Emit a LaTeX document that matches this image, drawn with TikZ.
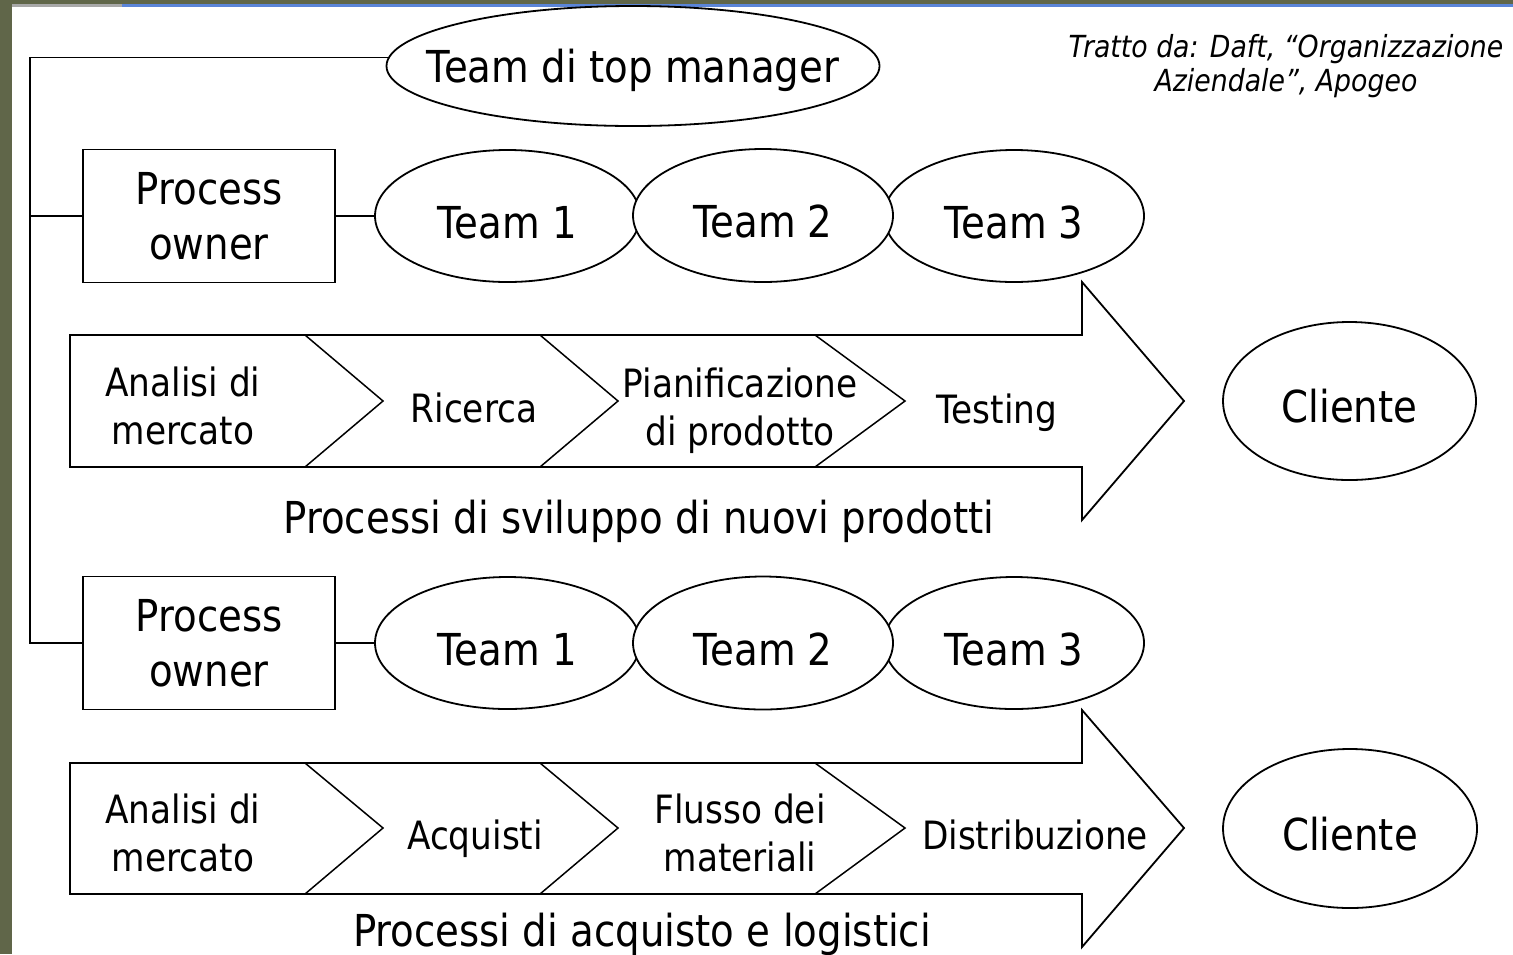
\documentclass[tikz,border=0pt]{standalone}
\usepackage{fontspec}
\setmainfont{DejaVu Sans}[FakeStretch=0.88]
\usetikzlibrary{shapes.geometric}
\definecolor{slideolive}{RGB}{96,102,73}
\definecolor{bargray}{RGB}{168,168,168}
\definecolor{barblue}{RGB}{91,133,216}
\begin{document}
\begin{tikzpicture}[x=0.5pt,y=-0.5pt,line width=0.9pt,
  bigtxt/.style={font=\fontsize{22pt}{27.5pt}\selectfont},
  midtxt/.style={font=\fontsize{19.5pt}{24pt}\selectfont},
  oval/.style={ellipse,draw,fill=white,inner sep=0pt,bigtxt,text height=22pt,text depth=0pt},
  pobox/.style={rectangle,draw,fill=white,minimum width=126pt,minimum height=66.5pt,align=center,bigtxt,inner sep=0pt},
  flowtxt/.style={midtxt,align=center,inner sep=0pt},
  labtxt/.style={bigtxt,inner sep=0pt,anchor=base},
  procarrow/.style={draw,fill=white,line join=miter},
  chev/.style={draw,line width=0.75pt}]
\useasboundingbox (0,0) rectangle (1513,954);
\fill[white] (0,0) rectangle (1513,954);
\fill[slideolive] (0,0) rectangle (12,954);
\fill[slideolive] (0,0) rectangle (1513,4);
\fill[bargray] (12,4) rectangle (122,7);
\fill[barblue] (122,4) rectangle (1513,7);

% source note
\node[font=\fontsize{15.2pt}{17pt}\selectfont\itshape,align=center,inner sep=0pt] (src) at (1286,66)
  {Tratto da: Daft, ``Organizzazione\\Aziendale'', Apogeo};

% top management
\node[oval,minimum width=246.5pt,minimum height=60pt,inner xsep=-25pt,text height=16pt] (top) at (633,66) {Team di top manager};

% row 1
\node[pobox] (po1) at (209,216) {Process\\owner};
\node[oval,minimum width=132.5pt,minimum height=66pt] (t11) at (507.5,216) {Team 1};
\node[oval,minimum width=130pt,minimum height=66pt] (t13) at (1014,216) {Team 3};
\node[oval,minimum width=130pt,minimum height=66.5pt] (t12) at (763,215.5) {Team 2};

\draw[procarrow] (70,335) -- (1082,335) -- (1082,282) -- (1184,401) -- (1082,520) -- (1082,467) -- (70,467) -- cycle;
\draw[chev] (305,335) -- (383,401) -- (305,467);
\draw[chev] (540,335) -- (618,401) -- (540,467);
\draw[chev] (815,335) -- (905,401) -- (815,467);
\node[flowtxt] (a1) at (183,406.2) {Analisi di\\mercato};
\node[flowtxt,anchor=base] (a2) at (474,422) {Ricerca};
\node[flowtxt] (a3) at (740,410.5) {Pianificazione\\di prodotto};
\node[flowtxt,anchor=base] (a4) at (997,423) {Testing};
\node[oval,minimum width=126.5pt,minimum height=79pt,text height=21pt] (c1) at (1349.5,401) {Cliente};
\node[labtxt] (l1) at (639,533) {Processi di sviluppo di nuovi prodotti};

% row 2
\node[pobox] (po2) at (209,643) {Process\\owner};
\node[oval,minimum width=132.5pt,minimum height=66pt] (t21) at (507.5,643) {Team 1};
\node[oval,minimum width=130pt,minimum height=66pt] (t23) at (1014,643) {Team 3};
\node[oval,minimum width=130pt,minimum height=66.5pt] (t22) at (763,643) {Team 2};

\draw[procarrow] (70,763) -- (1082,763) -- (1082,710) -- (1184,828) -- (1082,947) -- (1082,894) -- (70,894) -- cycle;
\draw[chev] (305,763) -- (383,828) -- (305,894);
\draw[chev] (540,763) -- (618,828) -- (540,894);
\draw[chev] (815,763) -- (905,828) -- (815,894);
\node[flowtxt] (b1) at (183,833.2) {Analisi di\\mercato};
\node[flowtxt,anchor=base] (b2) at (475,849) {Acquisti};
\node[flowtxt] (b3) at (740,832.7) {Flusso dei\\materiali};
\node[flowtxt,anchor=base] (b4) at (1035,849) {Distribuzione};
\node[oval,minimum width=127pt,minimum height=79.5pt,text height=21.5pt] (c2) at (1350,828.5) {Cliente};
\node[labtxt] (l2) at (642,946) {Processi di acquisto e logistici};

% connectors
\coordinate (busBot) at (30,643);
\draw (top.178) -| (busBot) -- (po2.west);
\draw (po1.west) -- (po1.west -| busBot);
\draw (po1.east) -- (t11.west);
\draw (po2.east) -- (t21.west);
\end{tikzpicture}
\end{document}
